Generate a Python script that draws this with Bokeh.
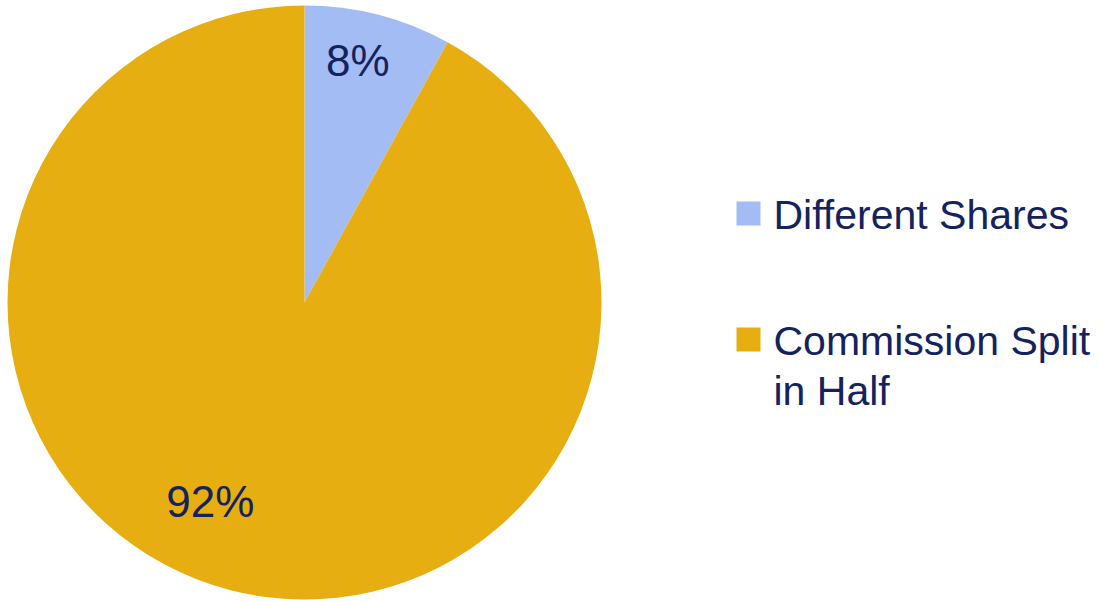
import numpy as np
from bokeh.plotting import figure
from bokeh.models import ColumnDataSource, Range1d
from bokeh.core.properties import value
from bokeh.embed import file_html
from bokeh.resources import INLINE

# ---- data ----
categories = ["Different Shares", "Commission Split in Half"]
legend_lines = [["Different Shares"], ["Commission Split", "in Half"]]
shares = [8, 92]
pct_labels = ["8%", "92%"]
colors = ["#a3bdf4", "#e7ae12"]

# ---- layout / style ----
W, H = 1111, 602
cx, cy, R = 304, H - 302, 297
label_r = [0.835, 0.74]
label_da = [2.0, -11.0]  # degrees
text_color = "#14225e"
font = "Liberation Sans"

p = figure(width=W, height=H, output_backend="svg", toolbar_location=None,
           x_range=Range1d(0, W), y_range=Range1d(0, H), min_border=0)
p.axis.visible = False
p.grid.visible = False
p.outline_line_color = None
p.background_fill_color = "white"
p.border_fill_color = "white"

vals = np.array(shares, dtype=float)
frac = vals / vals.sum()
cum = np.concatenate([[0], np.cumsum(frac)])
start = np.pi / 2 - cum[:-1] * 2 * np.pi
end = np.pi / 2 - cum[1:] * 2 * np.pi

src = ColumnDataSource(dict(start=start, end=end, color=colors, cat=categories))
p.wedge(x=cx, y=cy, radius=R, start_angle="start", end_angle="end",
        direction="clock", fill_color="color", line_color=None, source=src)

mid = (start + end) / 2 + np.radians(label_da)
lx = cx + np.array(label_r) * R * np.cos(mid)
ly = cy + np.array(label_r) * R * np.sin(mid)
p.text(x=lx, y=ly, text=pct_labels, text_align="center", text_baseline="middle",
       text_font=value(font), text_font_size="44px", text_color=text_color)

# legend (manual)
leg_x_sq = 748
leg_x_txt = 773
leg_y = [H - 213, H - 339]
line_gap = 50
p.rect(x=[leg_x_sq] * len(colors), y=leg_y, width=24, height=24,
       width_units="screen", height_units="screen",
       fill_color=colors, line_color=None)
tx, ty, tt = [], [], []
for y0, lines in zip(leg_y, legend_lines):
    for i, ln in enumerate(lines):
        tx.append(leg_x_txt)
        ty.append(y0 - 1 - i * line_gap)
        tt.append(ln)
p.text(x=tx, y=ty, text=tt, text_align="left", text_baseline="middle",
       text_font=value(font), text_font_size="41px", text_color=text_color)

open("out.html", "w").write(file_html(p, INLINE))
